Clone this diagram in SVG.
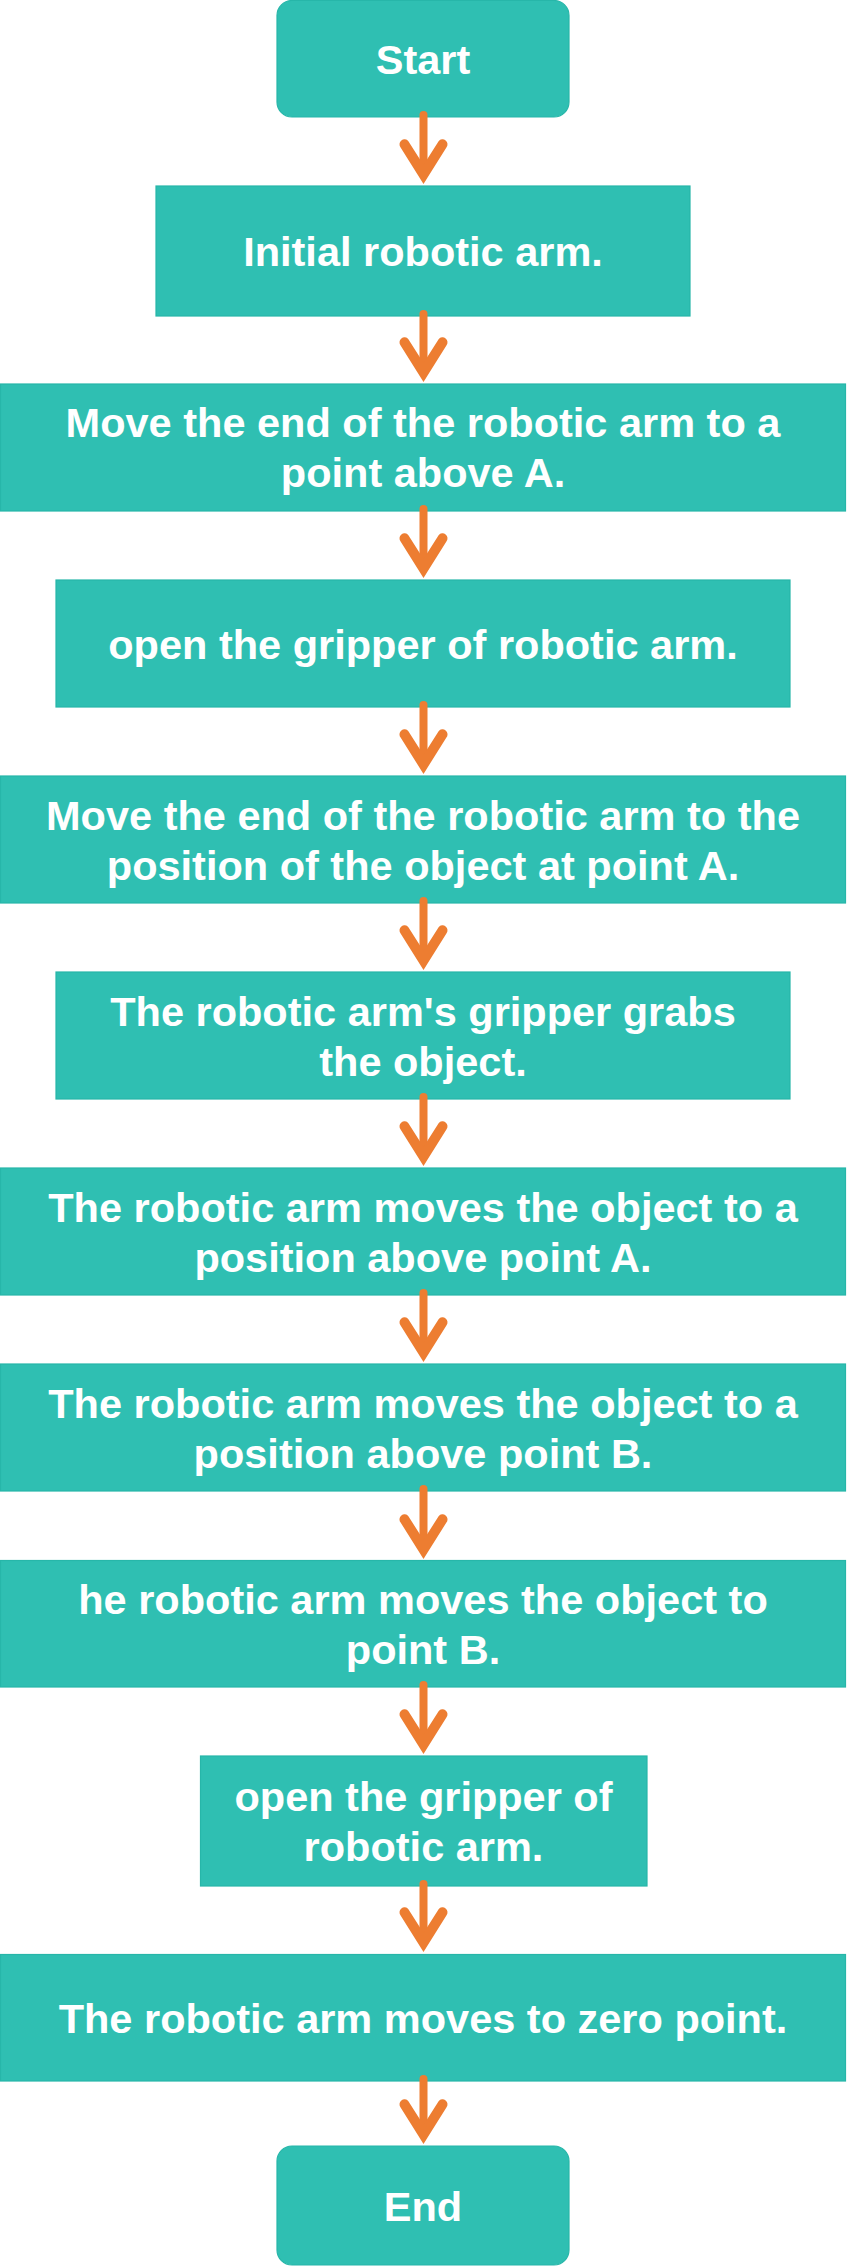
<svg xmlns="http://www.w3.org/2000/svg" xmlns:xlink="http://www.w3.org/1999/xlink" width="848" height="2266" viewBox="0 0 848 2266">
<style>
.box{fill:#2fbfb2;stroke:#27b6a9;stroke-width:1.2}
.t{fill:#ffffff;font-family:"Liberation Sans",Arial,sans-serif;font-weight:bold;font-size:41.5px;text-anchor:middle}
.shaft{fill:none;stroke:#ed7d31;stroke-width:8;stroke-linecap:round}
.head{fill:#ed7d31}
</style>
<defs>
<path id="ah" class="head" d="M0,0 L-22.9,-36.5 A5,5 0 0 1 -15.1,-42.8 L0,-19 L15.1,-42.8 A5,5 0 0 1 22.9,-36.5 Z"/>
</defs>
<rect width="848" height="2266" fill="#ffffff"/>
<g id="n1"><rect class="box" x="277" y="0.5" width="292" height="116.5" rx="15"/><text class="t" x="423" y="73.5">Start</text></g>
<g id="n2"><rect class="box" x="156" y="186" width="534" height="130"/><text class="t" x="423" y="266">Initial robotic arm.</text></g>
<g id="n3"><rect class="box" x="0.5" y="384" width="845" height="127"/><text class="t" x="423" y="437">Move the end of the robotic arm to a</text><text class="t" x="423" y="487">point above A.</text></g>
<g id="n4"><rect class="box" x="56" y="580" width="734" height="127"/><text class="t" x="423" y="658.5">open the gripper of robotic arm.</text></g>
<g id="n5"><rect class="box" x="0.5" y="776" width="845" height="127"/><text class="t" x="423" y="829.5">Move the end of the robotic arm to the</text><text class="t" x="423" y="879.5">position of the object at point A.</text></g>
<g id="n6"><rect class="box" x="56" y="972" width="734" height="127"/><text class="t" x="423" y="1025.5">The robotic arm's gripper grabs</text><text class="t" x="423" y="1075.5">the object.</text></g>
<g id="n7"><rect class="box" x="0.5" y="1168" width="845" height="127"/><text class="t" x="423" y="1221.5">The robotic arm moves the object to a</text><text class="t" x="423" y="1271.5">position above point A.</text></g>
<g id="n8"><rect class="box" x="0.5" y="1364" width="845" height="127"/><text class="t" x="423" y="1417.5">The robotic arm moves the object to a</text><text class="t" x="423" y="1467.5">position above point B.</text></g>
<g id="n9"><rect class="box" x="0.5" y="1560.5" width="845" height="126.5"/><text class="t" x="423" y="1613.5">he robotic arm moves the object to</text><text class="t" x="423" y="1663.5">point B.</text></g>
<g id="n10"><rect class="box" x="200.5" y="1756" width="446.5" height="130"/><text class="t" x="423.5" y="1811">open the gripper of</text><text class="t" x="423.5" y="1861">robotic arm.</text></g>
<g id="n11"><rect class="box" x="0.5" y="1954.5" width="845" height="126.5"/><text class="t" x="423" y="2033">The robotic arm moves to zero point.</text></g>
<g id="n12"><rect class="box" x="277" y="2146" width="292" height="119" rx="15"/><text class="t" x="423" y="2220.5">End</text></g>
<g id="connectors">
<path class="shaft" d="M423.5,115 V166"/><use xlink:href="#ah" href="#ah" x="423.5" y="184"/>
<path class="shaft" d="M423.5,314 V364"/><use xlink:href="#ah" href="#ah" x="423.5" y="382"/>
<path class="shaft" d="M423.5,509 V560"/><use xlink:href="#ah" href="#ah" x="423.5" y="578"/>
<path class="shaft" d="M423.5,705 V756"/><use xlink:href="#ah" href="#ah" x="423.5" y="774"/>
<path class="shaft" d="M423.5,901 V952"/><use xlink:href="#ah" href="#ah" x="423.5" y="970"/>
<path class="shaft" d="M423.5,1097 V1148"/><use xlink:href="#ah" href="#ah" x="423.5" y="1166"/>
<path class="shaft" d="M423.5,1293 V1344"/><use xlink:href="#ah" href="#ah" x="423.5" y="1362"/>
<path class="shaft" d="M423.5,1489 V1541"/><use xlink:href="#ah" href="#ah" x="423.5" y="1559"/>
<path class="shaft" d="M423.5,1685 V1736"/><use xlink:href="#ah" href="#ah" x="423.5" y="1754"/>
<path class="shaft" d="M423.5,1884 V1934"/><use xlink:href="#ah" href="#ah" x="423.5" y="1952"/>
<path class="shaft" d="M423.5,2079 V2126"/><use xlink:href="#ah" href="#ah" x="423.5" y="2144"/>
</g>
</svg>
